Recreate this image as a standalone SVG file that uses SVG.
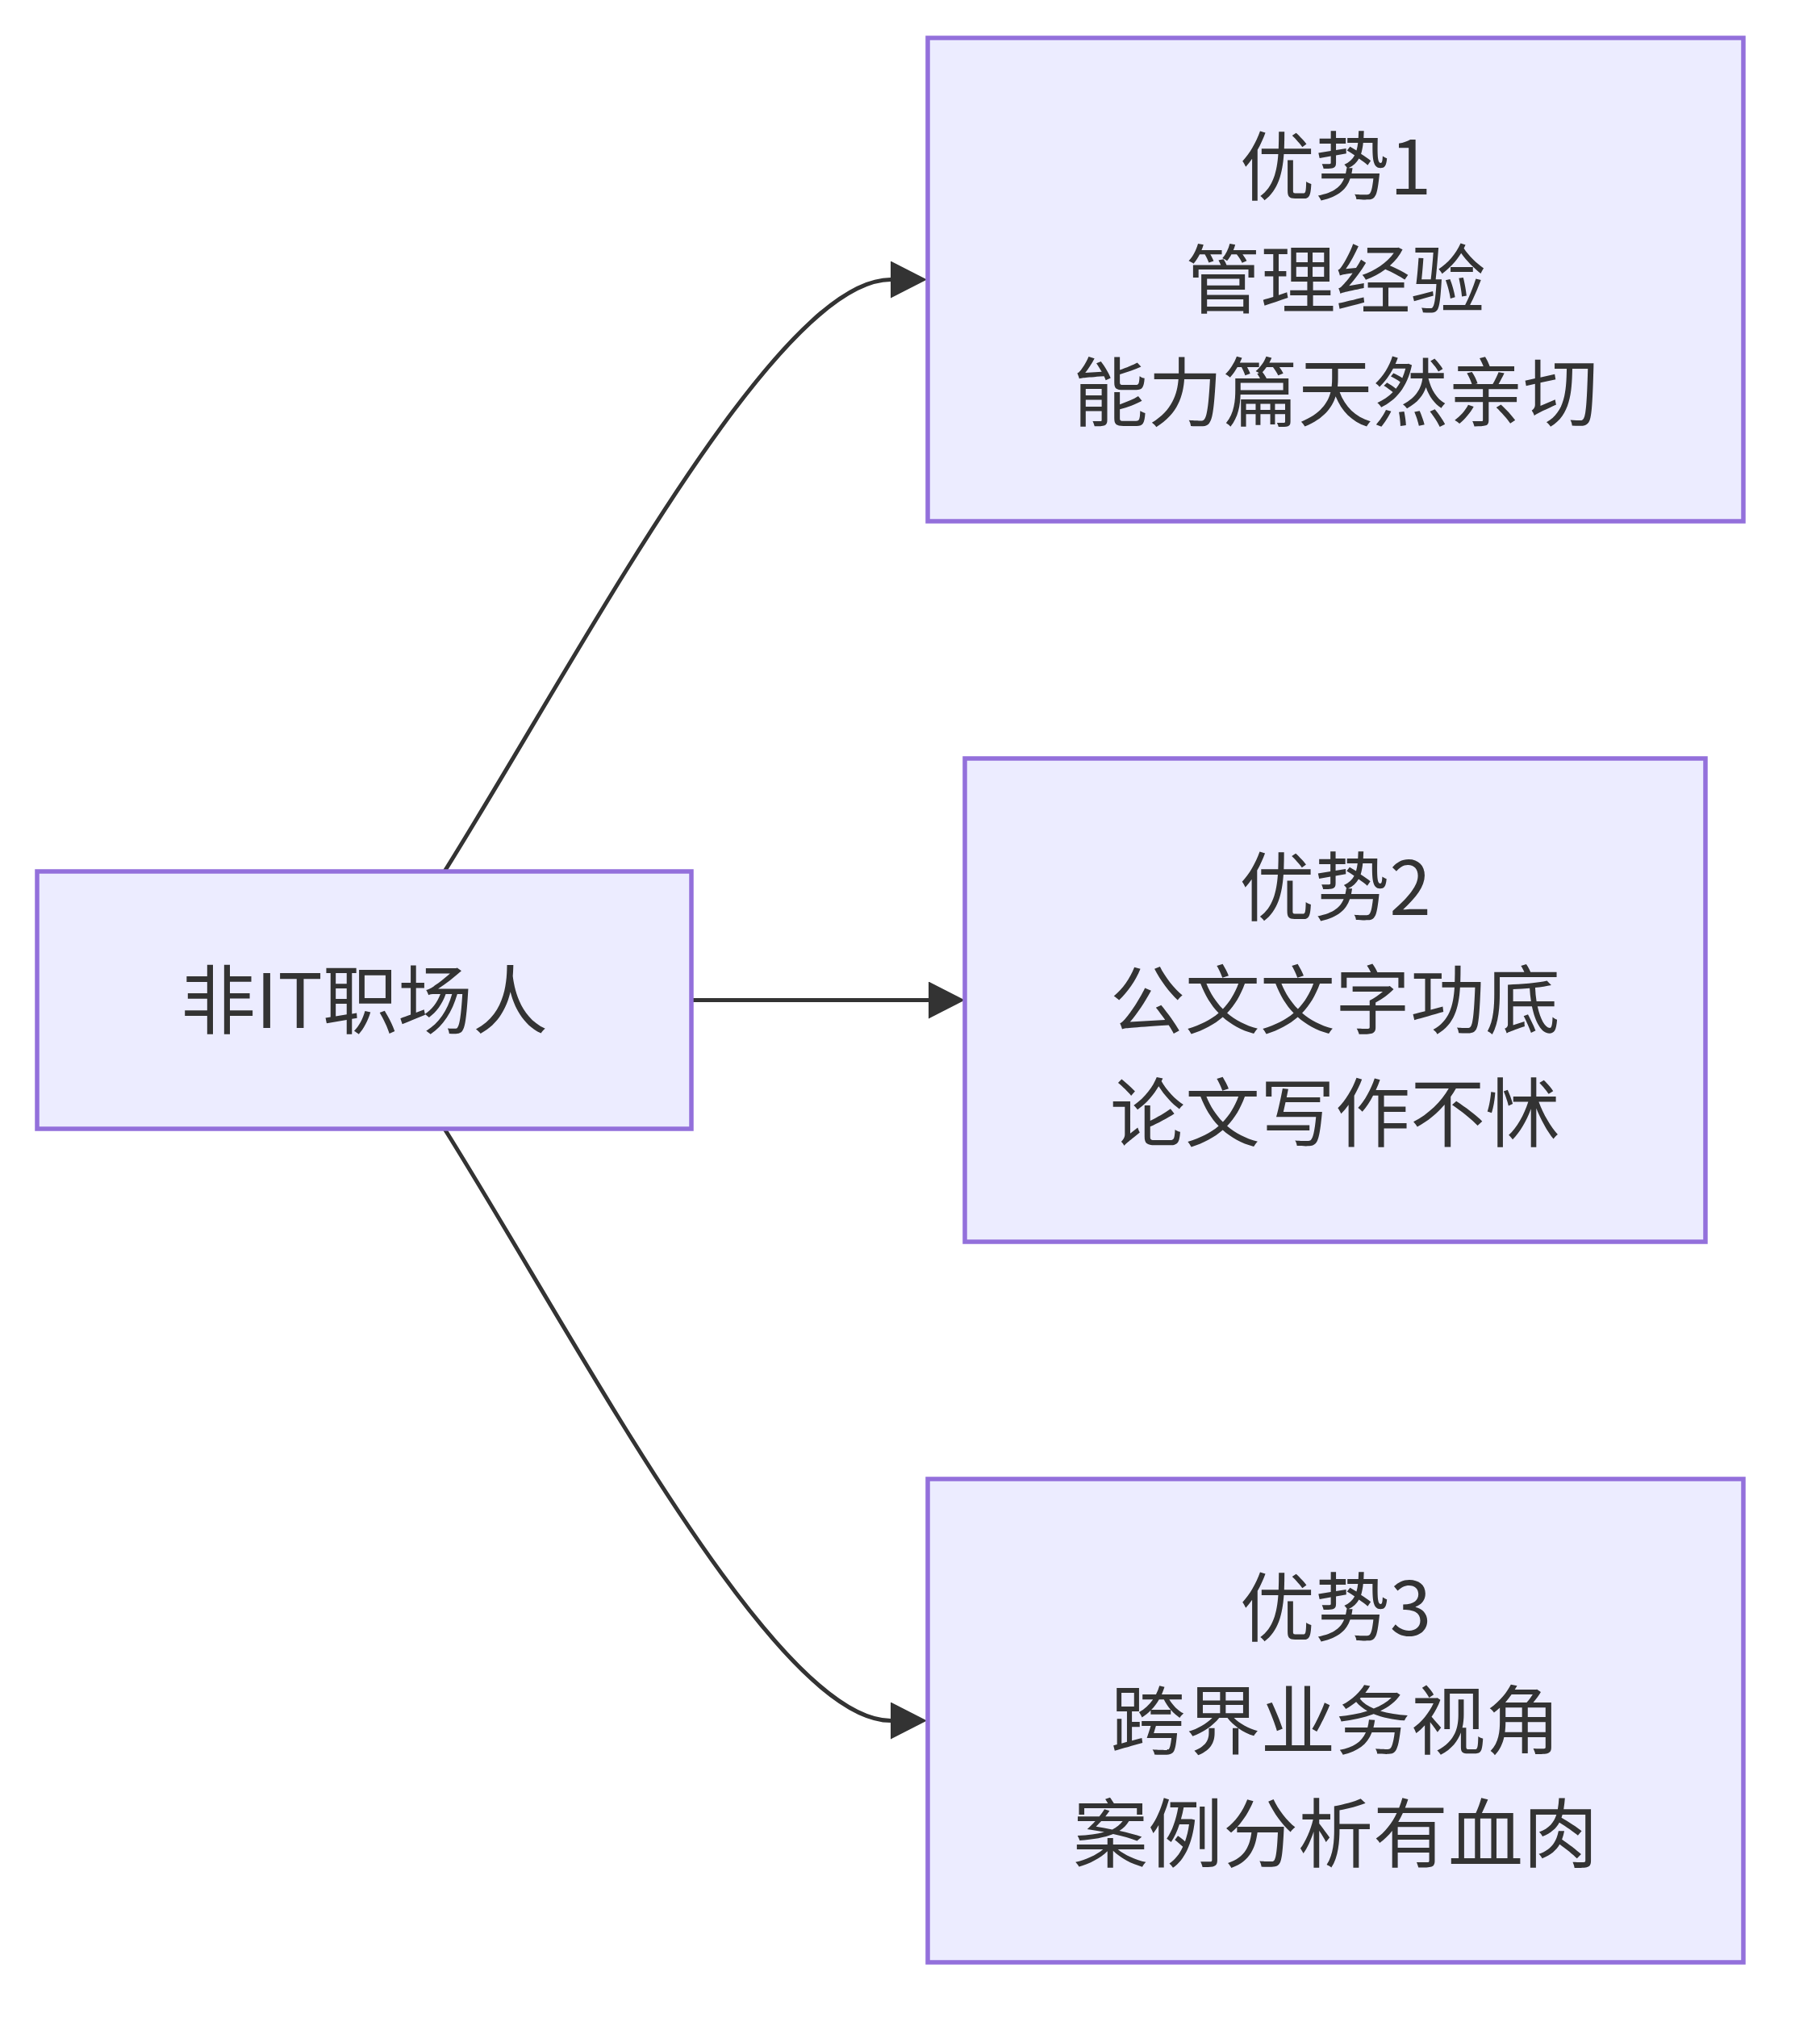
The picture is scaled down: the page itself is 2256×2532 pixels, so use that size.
<svg xmlns="http://www.w3.org/2000/svg" width="2256" height="2532" viewBox="0 0 2256 2532">
<style>
.node rect{fill:#ECECFF;stroke:#9370DB;stroke-width:5.5}
.node text{font-family:"Noto Sans CJK SC","Noto Sans",sans-serif;font-size:93px;fill:#333333;text-anchor:middle;dominant-baseline:central}
.edge{fill:none;stroke:#333333;stroke-width:5}
</style>
<defs>
<marker id="arrow" markerUnits="userSpaceOnUse" markerWidth="46" markerHeight="48" refX="0" refY="23" orient="auto" viewBox="0 0 46 48">
<path d="M0,0 L45,23 L0,46 z" fill="#333333"/>
</marker>
</defs>
<rect width="2256" height="2532" fill="#ffffff"/>
<g id="edges">
<path class="edge" d="M551,1080 C720,810 960,346.5 1104,346.5" marker-end="url(#arrow)"/>
<path class="edge" d="M857,1239.5 L1151,1239.5" marker-end="url(#arrow)"/>
<path class="edge" d="M551,1399 C720,1669 960,2132.5 1104,2132.5" marker-end="url(#arrow)"/>
</g>
<g id="node-A" class="node">
<rect x="46" y="1080" width="811" height="319"/>
<text x="451.5" y="1233">非IT职场人</text>
</g>
<g id="node-B" class="node">
<rect x="1150" y="47" width="1011" height="599"/>
<text x="1655.5" y="200">优势1</text>
<text x="1655.5" y="340">管理经验</text>
<text x="1655.5" y="480">能力篇天然亲切</text>
</g>
<g id="node-C" class="node">
<rect x="1196" y="940" width="918" height="599"/>
<text x="1655" y="1093">优势2</text>
<text x="1655" y="1233">公文文字功底</text>
<text x="1655" y="1373">论文写作不怵</text>
</g>
<g id="node-D" class="node">
<rect x="1150" y="1833" width="1011" height="599"/>
<text x="1655.5" y="1986">优势3</text>
<text x="1655.5" y="2126">跨界业务视角</text>
<text x="1655.5" y="2266">案例分析有血肉</text>
</g>
</svg>
